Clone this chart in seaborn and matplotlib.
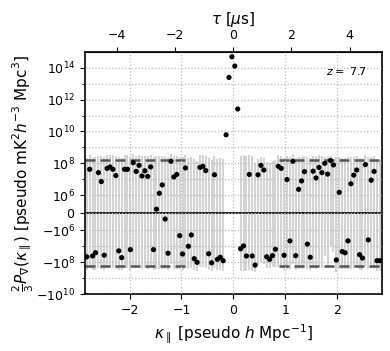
import numpy as np
import matplotlib
matplotlib.use("Agg")
import matplotlib.pyplot as plt
import seaborn as sns

# kappa_parallel grid (pseudo h/Mpc)
kpar = [-2.826, -2.770, -2.714, -2.658, -2.602, -2.546, -2.490, -2.434, -2.378, -2.322,
        -2.266, -2.210, -2.154, -2.098, -2.042, -1.986, -1.930, -1.874, -1.818, -1.762,
        -1.707, -1.651, -1.595, -1.539, -1.483, -1.427, -1.371, -1.315, -1.259, -1.203,
        -1.147, -1.091, -1.035, -0.979, -0.923, -0.867, -0.811, -0.755, -0.699, -0.643,
        -0.588, -0.532, -0.476, -0.420, -0.364, -0.308, -0.252, -0.196, -0.140, -0.084,
        -0.028, 0.028, 0.084, 0.140, 0.196, 0.252, 0.308, 0.364, 0.420, 0.476,
        0.532, 0.588, 0.643, 0.699, 0.755, 0.811, 0.867, 0.923, 0.979, 1.035,
        1.091, 1.147, 1.203, 1.259, 1.315, 1.371, 1.427, 1.483, 1.539, 1.595,
        1.651, 1.707, 1.762, 1.818, 1.874, 1.930, 1.986, 2.042, 2.098, 2.154,
        2.210, 2.266, 2.322, 2.378, 2.434, 2.490, 2.546, 2.602, 2.658, 2.714,
        2.770, 2.826]

# 2/3 P_nabla values
power = [-4.5e7, 4.2e7, -4.0e7, -2.5e7, 2.6e7, 7.1e6, -3.6e7, 4.8e7, 5.9e7, 4.2e7,
         1.7e7, -1.9e7, -5.1e7, 4.2e7, 4.2e7, -1.6e7, 1.1e8, 3.1e7, 7.4e7, 1.6e7,
         3.4e7, 1.5e7, 5.9e7, -1.6e7, 2.1e5, 1.3e6, 4.4e6, -3.5e5, -2.7e7, 1.35e8,
         1.4e7, 2.0e7, -2.1e6, -3.0e7, 5.1e7, -9.8e6, -1.9e6, -5.9e7, -1.0e8, 5.5e7,
         6.5e7, 3.5e7, -2.9e7, -1.07e8, 1.9e7, -6.5e7, -4.8e7, -7.9e7, 6.2e9, 2.5e13,
         5.0e14, 1.3e14, 2.6e11, -1.4e7, -9.3e6, -4.0e7, 2.0e7, -4.0e7, -1.5e8, 1.9e7,
         7.4e7, 3.8e7, -4.5e7, -6.5e7, -3.8e7, -1.5e7, 6.5e7, 4.8e7, -3.6e7, 9.5e6,
         -4.5e6, 1.35e8, -3.8e7, 2.3e6, 7.8e6, 3.0e7, -7.2e6, -4.8e7, 3.2e7, 1.2e7,
         5.5e7, 2.6e7, 1.0e8, 2.1e7, 1.5e8, 7.9e7, -7.1e7, 1.5e6, -2.1e7, -2.5e7,
         -4.5e6, 5.2e6, 1.8e7, 3.8e7, -3.3e7, -5.4e7, 8.3e7, -3.9e6, 8.7e6, 3.1e7,
         -7.9e7, -7.9e7]

# 1 sigma errors, read by region
power_err = ([2.7e8] * 35 + [2.4e8] * 4 + [2.6e8] * 14 + [3.2e8] * 5 + [2.6e8]
             + [1.7e8] * 7 + [2.6e8] * 16 + [1.4e8, 2.6e8, 1.6e8, 1.0e8, 3.2e8]
             + [2.5e8] * 15)

noise_level = 1.7e8
noise_kmin = [-2.86, 0.88]
noise_kmax = [-0.85, 2.87]
redshift = 7.7

sns.set_style("ticks")
plt.rcParams['font.family'] = ['DejaVu Sans']
plt.rcParams['text.color'] = 'k'
plt.rcParams['axes.labelcolor'] = 'k'
plt.rcParams['xtick.color'] = 'k'
plt.rcParams['ytick.color'] = 'k'

fig = plt.figure(figsize=(3.9, 3.51), dpi=100)
ax = fig.add_axes([0.218, 0.162, 0.762, 0.69])

# error bars first, then the points on top
ax.errorbar(kpar, power, yerr=power_err, fmt='none', ecolor='#d3d3d3',
            elinewidth=1.5, capsize=0, zorder=1)
sns.scatterplot(x=kpar, y=power, color='k', s=14, edgecolor='none', ax=ax, zorder=3)

for k0, k1 in zip(noise_kmin, noise_kmax):
    ax.hlines([noise_level, -noise_level], k0, k1, colors='#555555',
              linestyles=(0, (4, 2)), linewidth=1.8, zorder=2)
ax.axhline(0, color='k', lw=1.2, zorder=2)

ax.set_yscale('symlog', linthresh=1e6, linscale=1)
ax.set_ylim(-1e10, 1e15)
ax.set_xlim(-2.86, 2.87)
ax.set_yticks([-1e10, -1e8, -1e6, 0, 1e6, 1e8, 1e10, 1e12, 1e14])
ax.set_yticks([-1e9, -1e7, 1e7, 1e9, 1e11, 1e13], minor=True)
ax.yaxis.set_minor_formatter(matplotlib.ticker.NullFormatter())
ax.set_xticks([-2, -1, 0, 1, 2])

ax.grid(True, which='both', axis='y', linestyle=':', color='#bbbbbb', lw=0.9)
ax.grid(True, which='major', axis='x', linestyle=':', color='#bbbbbb', lw=0.9)
ax.set_axisbelow(False)

for s in ax.spines.values():
    s.set_linewidth(1.2)
    s.set_color('k')
ax.tick_params(labelsize=9, colors='k')

ax.set_xlabel(r'$\kappa_\parallel$ [pseudo $h$ Mpc$^{-1}$]', fontsize=11)
ax.set_ylabel(r'$\frac{2}{3}P_\nabla(\kappa_\parallel)$ [pseudo mK$^2h^{-3}$ Mpc$^3$]',
              fontsize=11, labelpad=0)

# delay axis on top
top = ax.secondary_xaxis('top', functions=(lambda k: k * 1.784, lambda t: t / 1.784))
top.set_xticks([-4, -2, 0, 2, 4])
top.tick_params(labelsize=9, colors='k')
top.set_xlabel(r'$\tau$ [$\mu$s]', fontsize=11)

ax.text(0.95, 0.945, r'$z=$ ' + str(redshift), transform=ax.transAxes,
        ha='right', va='top', fontsize=8)

fig.savefig('out.png', dpi=100)
